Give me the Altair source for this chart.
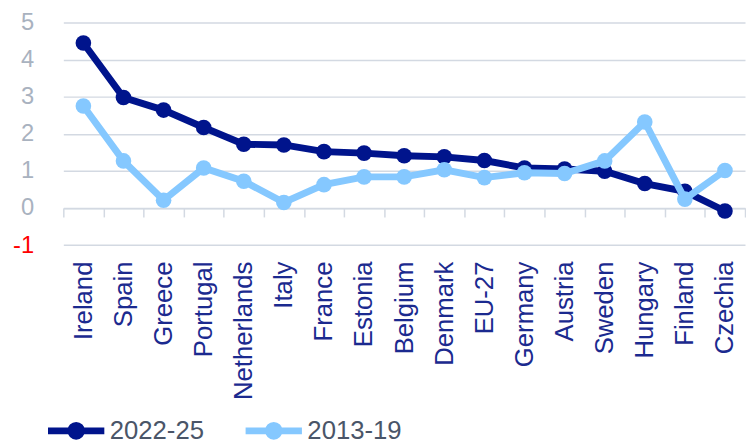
import altair as alt
import pandas as pd

countries = ["Ireland", "Spain", "Greece", "Portugal", "Netherlands", "Italy", "France",
             "Estonia", "Belgium", "Denmark", "EU-27", "Germany", "Austria", "Sweden",
             "Hungary", "Finland", "Czechia"]
v2022_25 = [4.45, 2.98, 2.64, 2.17, 1.72, 1.70, 1.52, 1.48, 1.41, 1.38, 1.28, 1.08, 1.05,
            0.99, 0.66, 0.45, -0.08]
v2013_19 = [2.75, 1.27, 0.21, 1.08, 0.72, 0.15, 0.63, 0.84, 0.84, 1.03, 0.82, 0.95, 0.93,
            1.27, 2.32, 0.24, 1.01]
series_names = ["2022-25", "2013-19"]
series_colors = ["#00148C", "#85C8FF"]
y_ticks = [-1, 0, 1, 2, 3, 4, 5]

rows = []
for c, a, b in zip(countries, v2022_25, v2013_19):
    rows.append({"country": c, "series": series_names[0], "value": a})
    rows.append({"country": c, "series": series_names[1], "value": b})
df = pd.DataFrame(rows)

W = 690
H = 225.3
FONT = "Liberation Sans"
GRID = "#D3D9E2"

x_enc = alt.X(
    "country:N", sort=countries,
    scale=alt.Scale(type="band", paddingInner=0, paddingOuter=0),
    axis=alt.Axis(title=None, orient="bottom", offset=-H / 6,
                  domainColor=GRID, domainWidth=1.5,
                  tickColor=GRID, tickWidth=1.5, tickSize=9, tickBand="extent",
                  labelAngle=-90, labelPadding=44.7, labelFontSize=26, labelFont=FONT,
                  labelColor="#1B2A8F", grid=False),
)
y_enc = alt.Y(
    "value:Q",
    scale=alt.Scale(domain=[-1, 5], nice=False, zero=False),
    axis=alt.Axis(title=None, values=y_ticks, domain=False, ticks=False, grid=True,
                  gridColor=GRID, gridWidth=1.5, labelFontSize=24, labelFont=FONT,
                  labelExpr="'' + datum.value",
                  labelColor=alt.ExprRef(expr="datum.value < 0 ? '#FF0000' : '#A9B2BF'"),
                  labelPadding=30),
)
sym_color = alt.ExprRef(
    expr=f"datum.value == '{series_names[0]}' ? '{series_colors[0]}' : '{series_colors[1]}'")
legend_path = "M-1,0H1M-0.19,0A0.19,0.19 0 1,1 0.19,0A0.19,0.19 0 1,1 -0.19,0Z"
color_enc = alt.Color(
    "series:N",
    scale=alt.Scale(domain=series_names, range=series_colors),
    legend=alt.Legend(
        title=None, orient="none", legendX=-19, legendY=381, direction="horizontal",
        symbolType=legend_path, symbolSize=3249, symbolStrokeWidth=7,
        symbolStrokeColor=sym_color, symbolFillColor=sym_color, symbolOpacity=1,
        labelFontSize=26, labelFont=FONT, labelColor="#4A5568",
        columnPadding=27, labelOffset=2, padding=0,
    ),
)

base = alt.Chart(df).encode(x=x_enc, y=y_enc, color=color_enc)
layers = []
for s in series_names:
    sub = base.transform_filter(alt.datum.series == s)
    layers.append(sub.mark_line(strokeWidth=7))
    layers.append(sub.mark_circle(size=250, opacity=1))

chart = alt.layer(*layers).properties(
    width=W, height=H,
    padding={"left": 4, "top": 0, "right": 0, "bottom": 0},
).configure_view(stroke=None)

chart.save("out.html", embed_options={"renderer": "svg", "actions": False})
